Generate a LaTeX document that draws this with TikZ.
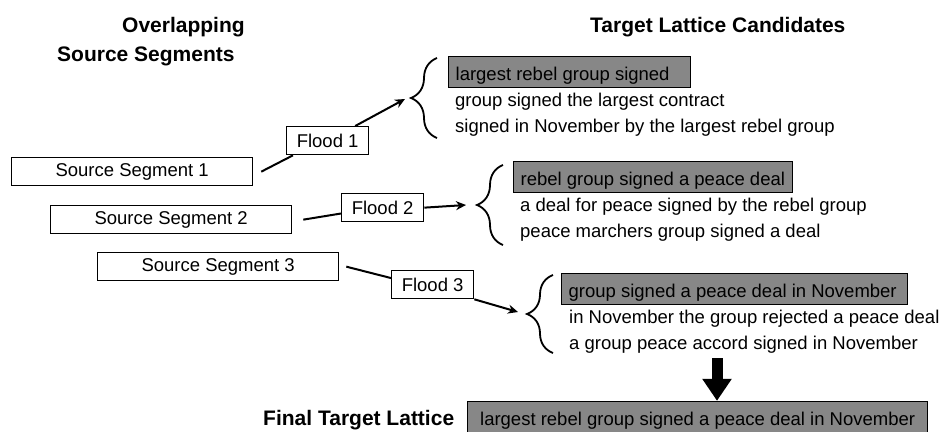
\documentclass[tikz,border=0pt]{standalone}
\usepackage{fontspec}
\setmainfont{Liberation Sans}
\usetikzlibrary{arrows.meta,decorations.pathreplacing}

\begin{document}
\begin{tikzpicture}
[x=1pt,y=-1pt,
 font=\fontsize{18.5}{22}\selectfont,
 segbox/.style={draw,line width=1.3pt,minimum width=241pt,minimum height=28pt,inner sep=0pt,anchor=north west},
 floodbox/.style={draw,line width=1.3pt,minimum width=82pt,minimum height=28pt,inner sep=0pt,anchor=north west},
 candbox/.style={draw,line width=1.3pt,fill=black!47,anchor=base west,inner xsep=7pt,inner ysep=3.5pt,text height=20pt,text depth=4pt},
 cand/.style={anchor=base west,inner sep=0pt},
 heading/.style={font=\fontsize{21}{25}\selectfont\bfseries,anchor=base west,inner sep=0pt},
 link/.style={line width=2pt},
 flood/.style={line width=2pt,-{Stealth[length=10pt,width=9pt]}},
 lattice/.style={decorate,decoration={brace,amplitude=26pt},line width=1.8pt}
]
\useasboundingbox (0,0) rectangle (947,431);

% headings
\node[heading] (hover) at (122,32) {Overlapping};
\node[heading] (hsrc) at (57,61) {Source Segments};
\node[heading] (htgt) at (590,32) {Target Lattice Candidates};
\node[heading] (hfin) at (263,425) {Final Target Lattice};

% source segments
\node[segbox] (s1) at (11,157) {Source Segment 1};
\node[segbox] (s2) at (50,205) {Source Segment 2};
\node[segbox] (s3) at (97,252) {Source Segment 3};

% floods
\node[floodbox] (f1) at (286,126) {Flood 1};
\node[floodbox] (f2) at (341,193) {Flood 2};
\node[floodbox] (f3) at (391,270) {Flood 3};

% candidates
\node[candbox] (c1a) at (448,80) {\makebox[228pt][l]{largest rebel group signed}};
\node[cand] (c1b) at (455,106) {group signed the largest contract};
\node[cand] (c1c) at (455,132) {signed in November by the largest rebel group};

\node[candbox] (c2a) at (513,185) {\makebox[265pt][l]{rebel group signed a peace deal}};
\node[cand] (c2b) at (520,211) {a deal for peace signed by the rebel group};
\node[cand] (c2c) at (520,237) {peace marchers group signed a deal};

\node[candbox] (c3a) at (561,297) {\makebox[332pt][l]{group signed a peace deal in November}};
\node[cand] (c3b) at (569,323) {in November the group rejected a peace deal};
\node[cand] (c3c) at (569,349) {a group peace accord signed in November};

\node[candbox] (fin) at (467,425) {\makebox[446pt][c]{largest rebel group signed a peace deal in November}};

% braces
\coordinate (b1top) at (437,58);
\coordinate (b1bot) at (437,138);
\coordinate (b2top) at (503,165);
\coordinate (b2bot) at (503,245);
\coordinate (b3top) at (553,275);
\coordinate (b3bot) at (553,353);
\draw[lattice] (b1bot) -- (b1top);
\draw[lattice] (b2bot) -- (b2top);
\draw[lattice] (b3bot) -- (b3top);
\coordinate (t1) at (405,99);
\coordinate (t2) at (466,205);
\coordinate (t3) at (518,312);

% connectors
\draw[link] ([xshift=8pt]s1.east) -- ([xshift=7pt]f1.south west);
\draw[flood] (f1.28) -- (t1);
\draw[link] ([xshift=11pt]s2.east) -- (f2.188);
\draw[flood] (f2.east) -- (t2);
\draw[link] ([xshift=7pt]s3.east) -- (f3.171);
\draw[flood] (f3.south east) -- (t3);

% to final lattice
\coordinate (dn) at (717,358);
\draw[line width=11pt,-{Triangle[length=22pt,width=28pt]}] (dn) -- (dn |- fin.north);

\end{tikzpicture}
\end{document}
